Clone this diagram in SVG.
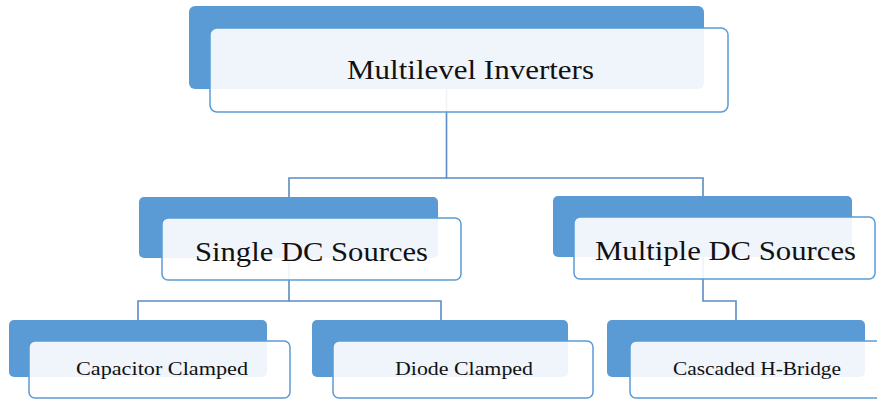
<svg xmlns="http://www.w3.org/2000/svg" width="877" height="399" viewBox="0 0 877 399">
<style>
.dark{fill:#5B9BD5;}
.light{fill:#FFFFFF;fill-opacity:0.9;stroke:#5B9BD5;stroke-width:1.5;}
.big{font-family:"Liberation Serif","Times New Roman",serif;font-size:27px;fill:#111;}
.small{font-family:"Liberation Serif","Times New Roman",serif;font-size:19px;fill:#111;}
.conn{fill:none;stroke:#5B8CC4;stroke-width:1.6;}
</style>
<rect width="877" height="399" fill="#FFFFFF"/>
<g id="connectors">
<path class="conn" d="M446.5 89 V178 H289 V197"/>
<path class="conn" d="M446.5 178 H703 V197"/>
<path class="conn" d="M289 258 V301 H138 V320"/>
<path class="conn" d="M289 301 H441 V320"/>
<path class="conn" d="M703 257 V301 H736 V320"/>
</g>
<g id="multilevel-inverters">
<rect class="dark" x="189" y="6" width="515" height="83" rx="6"/>
<rect class="light" x="210" y="28" width="518" height="84" rx="7"/>
<text class="big" x="347" y="79" textLength="247" lengthAdjust="spacingAndGlyphs">Multilevel Inverters</text>
</g>
<g id="single-dc-sources">
<rect class="dark" x="139" y="197" width="299" height="61" rx="5"/>
<rect class="light" x="162" y="218" width="299" height="62" rx="6"/>
<text class="big" x="195" y="261" textLength="233" lengthAdjust="spacingAndGlyphs">Single DC Sources</text>
</g>
<g id="multiple-dc-sources">
<rect class="dark" x="553" y="196" width="299" height="61" rx="5"/>
<rect class="light" x="574" y="217" width="301" height="62" rx="6"/>
<text class="big" x="595" y="260" textLength="261" lengthAdjust="spacingAndGlyphs">Multiple DC Sources</text>
</g>
<g id="capacitor-clamped">
<rect class="dark" x="9" y="320" width="258" height="57" rx="5"/>
<rect class="light" x="29" y="341" width="261" height="57" rx="6"/>
<text class="small" x="76" y="375" textLength="172" lengthAdjust="spacingAndGlyphs">Capacitor Clamped</text>
</g>
<g id="diode-clamped">
<rect class="dark" x="312" y="320" width="256" height="57" rx="5"/>
<rect class="light" x="333" y="341" width="260" height="57" rx="6"/>
<text class="small" x="395" y="375" textLength="138" lengthAdjust="spacingAndGlyphs">Diode Clamped</text>
</g>
<g id="cascaded-h-bridge">
<rect class="dark" x="607" y="320" width="258" height="57" rx="5"/>
<rect class="light" x="630" y="341" width="260" height="57" rx="6"/>
<text class="small" x="673" y="375" textLength="168" lengthAdjust="spacingAndGlyphs">Cascaded H-Bridge</text>
</g>
</svg>
